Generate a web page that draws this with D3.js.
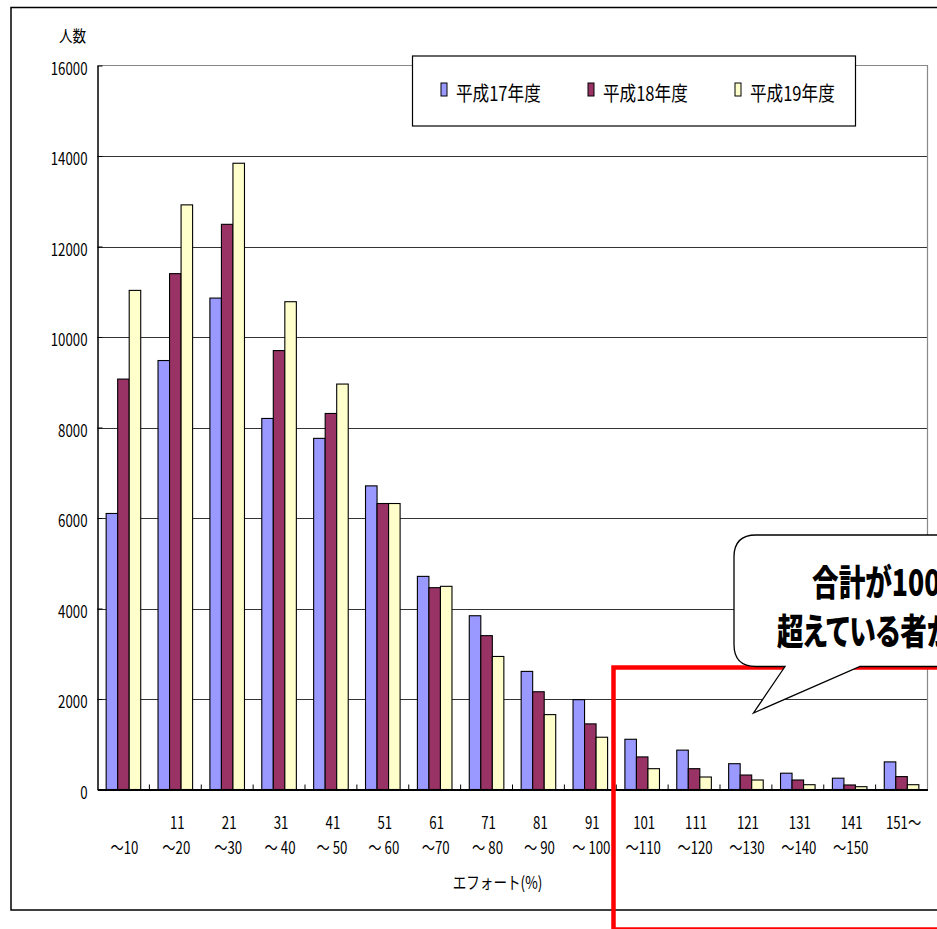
<!DOCTYPE html>
<html lang="ja">
<head>
<meta charset="utf-8">
<script src="https://cdn.jsdelivr.net/npm/d3@7/dist/d3.min.js"></script>
<style>
  html, body { margin: 0; padding: 0; background: #fff; }
  svg { display: block; }
  text { font-family: "Noto Sans CJK JP", "Noto Sans", sans-serif; fill: #000; }
  .note { font-feature-settings: "palt"; }
</style>
</head>
<body>
<svg id="chart" width="937" height="929"></svg>
<script>
// エフォート区分
const categories = ["~10", "11-20", "21-30", "31-40", "41-50", "51-60", "61-70", "71-80",
  "81-90", "91-100", "101-110", "111-120", "121-130", "131-140", "141-150", "151~"];
// 区分ラベル（上段・下段）
const labelTop = ["", "11", "21", "31", "41", "51", "61", "71", "81", "91",
  "101", "111", "121", "131", "141", "151～"];
const labelBottom = ["～10", "～20", "～30", "～ 40", "～ 50", "～ 60", "～70", "～ 80", "～ 90", "～ 100",
  "～110", "～120", "～130", "～140", "～150", ""];
// 年度別の人数
const seriesNames = ["平成17年度", "平成18年度", "平成19年度"];
const h17 = [6100, 9480, 10860, 8200, 7760, 6710, 4710, 3840, 2610, 1985, 1110, 870, 570, 360, 250, 610];
const h18 = [9070, 11400, 12490, 9700, 8310, 6320, 4460, 3400, 2160, 1450, 720, 460, 320, 210, 100, 285];
const h19 = [11030, 12920, 13840, 10780, 8960, 6320, 4490, 2940, 1655, 1155, 460, 276, 210, 106, 62, 106];
const yTicks = [0, 2000, 4000, 6000, 8000, 10000, 12000, 14000, 16000];
const colors = ["#9999FF", "#993366", "#FFFFCC"];

const series = [h17, h18, h19];
const svg = d3.select("#chart");

// 横方向に詰めた文字
function squeezed(g, str, x, y, sx, anchor, size, weight) {
  return g.append("text")
    .attr("transform", `translate(${x},${y}) scale(${sx},1)`)
    .attr("text-anchor", anchor)
    .attr("dominant-baseline", "central")
    .style("font-size", size + "px")
    .style("font-weight", weight || 400)
    .text(str);
}

// 外枠
svg.append("rect")
  .attr("x", 11).attr("y", 7.5).attr("width", 960).attr("height", 902.5)
  .attr("fill", "#fff").attr("stroke", "#000").attr("stroke-width", 1.5);

const plotL = 97.5, plotR = 927.5, plotT = 65.5, plotB = 789.5;

const x = d3.scaleBand().domain(categories).range([plotL, plotR]).padding(0);
const xs = d3.scaleBand().domain(seriesNames).range([0, x.bandwidth()])
  .paddingInner(0).paddingOuter(0.75);
const y = d3.scaleLinear().domain([0, 16000]).range([plotB, plotT]);

// 目盛線
svg.append("g").selectAll("line")
  .data(yTicks.filter(t => t > 0 && t < 16000))
  .join("line")
  .attr("x1", plotL).attr("x2", plotR)
  .attr("y1", d => Math.round(y(d)) + 0.5).attr("y2", d => Math.round(y(d)) + 0.5)
  .attr("stroke", "#333").attr("stroke-width", 1);

// プロットエリアの上・右の枠
svg.append("path")
  .attr("d", `M${plotL},${plotT}H${plotR}V${plotB}`)
  .attr("fill", "none").attr("stroke", "#888").attr("stroke-width", 1.2);

// 棒
const groups = svg.append("g").selectAll("g")
  .data(categories)
  .join("g")
  .attr("transform", d => `translate(${x(d)},0)`);

groups.selectAll("rect")
  .data((d, i) => series.map((s, k) => ({ k, v: s[i] })))
  .join("rect")
  .attr("x", d => xs(seriesNames[d.k]))
  .attr("y", d => y(d.v))
  .attr("width", xs.bandwidth())
  .attr("height", d => plotB - y(d.v))
  .attr("fill", d => colors[d.k])
  .attr("stroke", "#000").attr("stroke-width", 1.1);

// 軸
const yAxis = d3.axisLeft(y).tickValues(yTicks).tickSize(-5).tickFormat("").tickSizeOuter(0);
svg.append("g").attr("transform", `translate(${plotL},0)`).call(yAxis)
  .call(g => g.select(".domain").attr("stroke", "#000").attr("stroke-width", 1.5))
  .call(g => g.selectAll(".tick line").attr("stroke", "#000"));

const xAxis = d3.axisBottom(x).tickValues([]).tickSizeOuter(0);
svg.append("g").attr("transform", `translate(0,${plotB})`).call(xAxis)
  .call(g => g.select(".domain").attr("stroke", "#000").attr("stroke-width", 2));

// 区分の境目の目盛（内向き）
svg.append("g").selectAll("line")
  .data(categories.slice(1))
  .join("line")
  .attr("x1", d => x(d)).attr("x2", d => x(d))
  .attr("y1", plotB).attr("y2", plotB - 5)
  .attr("stroke", "#000").attr("stroke-width", 1);

// 縦軸ラベル
const yLab = svg.append("g");
yTicks.forEach(t => squeezed(yLab, String(t), 87.5, y(t) + 1.5, 0.78, "end", 17));
squeezed(svg, "人数", 72.5, 34.5, 0.85, "middle", 16);

// 横軸ラベル
const xLab = svg.append("g");
categories.forEach((c, i) => {
  const cx = x(c) + x.bandwidth() / 2;
  if (labelTop[i]) squeezed(xLab, labelTop[i], cx + 2, 821.5, 0.78, "middle", 17);
  if (labelBottom[i]) squeezed(xLab, labelBottom[i], cx + 1, 846.5, 0.78, "middle", 17);
});
squeezed(svg, "エフォート(%)", 497.5, 881.5, 0.8, "middle", 17);

// 凡例
const leg = svg.append("g");
leg.append("rect").attr("x", 412.5).attr("y", 56).attr("width", 443).attr("height", 70)
  .attr("fill", "#fff").attr("stroke", "#000").attr("stroke-width", 1.2);
const legX = [441, 588, 735];
seriesNames.forEach((n, k) => {
  leg.append("rect").attr("x", legX[k]).attr("y", 83).attr("width", 6).attr("height", 13)
    .attr("fill", colors[k]).attr("stroke", "#000").attr("stroke-width", 1);
  squeezed(leg, n, legX[k] + 15, 92, 0.83, "start", 20);
});

// 100%超過部分の囲み
svg.append("rect")
  .attr("x", 613.5).attr("y", 667.5).attr("width", 400).attr("height", 262)
  .attr("fill", "none").attr("stroke", "#FF0000").attr("stroke-width", 4.5);

// 吹き出し
const bx = 734, by = 535, bb = 666.5, r = 22;
const bubble = d3.path();
bubble.moveTo(bx + r, by);
bubble.lineTo(980, by);
bubble.lineTo(980, bb);
bubble.lineTo(860, bb);
bubble.lineTo(753.5, 713);
bubble.lineTo(785, bb);
bubble.lineTo(bx + r, bb);
bubble.quadraticCurveTo(bx, bb, bx, bb - r);
bubble.lineTo(bx, by + r);
bubble.quadraticCurveTo(bx, by, bx + r, by);
bubble.closePath();
svg.append("path").attr("d", bubble.toString())
  .attr("fill", "#fff").attr("stroke", "#000").attr("stroke-width", 1.3);

squeezed(svg, "合計が100％を", 812, 580, 0.74, "start", 36, 900).attr("class", "note");
squeezed(svg, "超えている者がいる", 777, 629, 0.74, "start", 36, 900).attr("class", "note");
</script>
</body>
</html>
